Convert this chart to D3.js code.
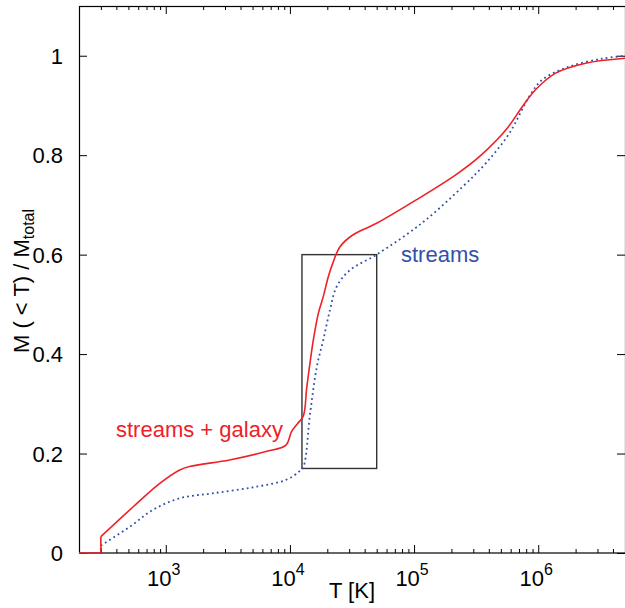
<!DOCTYPE html>
<html lang="en">
<head>
    <meta charset="UTF-8">
    <title>M(&lt;T) / Mtotal</title>
    <script src="https://d3js.org/d3.v7.min.js"></script>
    <style>
        body { margin: 0; background: #fff; }
        svg text { font-family: "Liberation Sans", Arial, Helvetica, sans-serif; }
    </style>
</head>
<body>
    <div id="container"></div>
    <script>
        // Data: cumulative mass fraction below temperature T
        const galaxyT = [200, 300, 300, 547, 895, 1295, 1557, 3260, 6410, 9290, 10300, 11500, 12800,
                         13700, 15450, 16940, 18580, 20400, 22380, 25300, 32300, 49900, 104000,
                         218000, 336000, 550000, 747000, 955000, 1.38e6, 2.41e6, 5e6];
        const galaxyM = [0, 0, 0.033, 0.093, 0.140, 0.167, 0.174, 0.187, 0.204, 0.217, 0.244, 0.260, 0.275,
                         0.335, 0.429, 0.482, 0.516, 0.556, 0.586, 0.616, 0.640, 0.663, 0.710,
                         0.761, 0.797, 0.851, 0.898, 0.932, 0.965, 0.985, 0.995];

        const streamsT = [200, 300, 300, 514, 791, 1295, 2390, 5010, 9290, 11900, 12860, 14540, 16480,
                          18580, 21040, 23820, 30460, 49900, 115000, 247000, 379000, 585000, 846000,
                          1.08e6, 1.77e6, 3.27e6, 5e6];
        const streamsM = [0, 0, 0.015, 0.053, 0.087, 0.110, 0.120, 0.132, 0.147, 0.164, 0.174, 0.281, 0.375,
                          0.429, 0.489, 0.536, 0.569, 0.600, 0.663, 0.737, 0.784, 0.844, 0.918,
                          0.952, 0.978, 0.994, 1.0];

        // Zoom box drawn on the plot
        const boxT = [1.25e4, 5e4];
        const boxM = [0.17, 0.6];

        // Ticks
        const xMajor = [1e3, 1e4, 1e5, 1e6];
        const xExp = ["3", "4", "5", "6"];
        const yTicks = [0, 0.2, 0.4, 0.6, 0.8, 1];
        const yLabels = ["0", "0.2", "0.4", "0.6", "0.8", "1"];

        const red = "#ee2127";
        const blue = "#3350a8";

        // Dimensions
        const W = 625, H = 608;
        const marginLeft = 79, marginTop = 6, marginRight = 0, marginBottom = 55;
        const width = W - marginLeft - marginRight;
        const height = H - marginTop - marginBottom;

        const svg = d3.select("#container").append("svg")
            .attr("width", W).attr("height", H);
        const g = svg.append("g").attr("transform", `translate(${marginLeft},${marginTop})`);

        const x = d3.scaleLog().domain([200, 5e6]).range([0, width]);
        const y = d3.scaleLinear().domain([0, 1.1]).range([height, 0]);

        // minor ticks: 2..9 x 10^k inside the domain
        const xMinor = [];
        for (let k = 2; k <= 6; k++) {
            for (let m = 2; m <= 9; m++) {
                const v = m * Math.pow(10, k);
                if (v >= 200 && v <= 5e6) xMinor.push(v);
            }
        }

        const axisStyle = sel => {
            sel.select(".domain").remove();
            sel.selectAll("line").attr("stroke", "#000").attr("stroke-width", 1);
        };

        // Inward ticks on all four sides
        g.append("g").attr("transform", `translate(0,${height})`)
            .call(d3.axisBottom(x).tickValues(xMinor).tickSize(-4).tickFormat(""))
            .call(axisStyle);
        g.append("g").attr("transform", `translate(0,${height})`)
            .call(d3.axisBottom(x).tickValues(xMajor).tickSize(-8).tickFormat(""))
            .call(axisStyle);
        g.append("g")
            .call(d3.axisTop(x).tickValues(xMinor).tickSize(-4).tickFormat(""))
            .call(axisStyle);
        g.append("g")
            .call(d3.axisTop(x).tickValues(xMajor).tickSize(-8).tickFormat(""))
            .call(axisStyle);
        g.append("g")
            .call(d3.axisLeft(y).tickValues(yTicks).tickSize(-8).tickFormat(""))
            .call(axisStyle);
        g.append("g").attr("transform", `translate(${width},0)`)
            .call(d3.axisRight(y).tickValues(yTicks).tickSize(-8).tickFormat(""))
            .call(axisStyle);

        // Frame
        g.append("rect")
            .attr("x", 0.5).attr("y", 0.5)
            .attr("width", width).attr("height", height - 0.5)
            .attr("fill", "none").attr("stroke", "#000").attr("stroke-width", 1.2);

        // Tick labels
        const xl = g.append("g").attr("font-size", 22).attr("fill", "#000");
        xMajor.forEach((v, i) => {
            const t = xl.append("text")
                .attr("x", x(v) - 2).attr("y", height + 33)
                .attr("text-anchor", "middle");
            t.append("tspan").text("10");
            t.append("tspan").attr("dy", -11).attr("font-size", 16).text(xExp[i]);
        });
        g.append("g").attr("font-size", 22)
            .selectAll("text").data(yTicks).join("text")
            .attr("x", -16).attr("y", d => y(d) + 8)
            .attr("text-anchor", "end")
            .text((d, i) => yLabels[i]);

        // Axis titles
        g.append("text")
            .attr("x", 273).attr("y", height + 45)
            .attr("text-anchor", "middle").attr("font-size", 22)
            .text("T [K]");
        const yt = svg.append("text")
            .attr("transform", `translate(29,281) rotate(-90)`)
            .attr("text-anchor", "middle").attr("font-size", 22);
        yt.append("tspan").text("M ( < T) / M");
        yt.append("tspan").attr("dy", 5).attr("font-size", 16).text("total");

        // Zoom box
        g.append("rect")
            .attr("x", x(boxT[0])).attr("y", y(boxM[1]))
            .attr("width", x(boxT[1]) - x(boxT[0]))
            .attr("height", y(boxM[0]) - y(boxM[1]))
            .attr("fill", "none").attr("stroke", "#333").attr("stroke-width", 1.4);

        // the step at T = 300 K is drawn straight, the rest smoothed
        const step = d3.line().x(d => x(d[0])).y(d => y(d[1]));
        const smooth = d3.line()
            .x(d => x(d[0])).y(d => y(d[1]))
            .curve(d3.curveCatmullRom.alpha(0.5));

        function drawCurve(T, M, attrs) {
            const pts = d3.zip(T, M);
            [step(pts.slice(0, 3)), smooth(pts.slice(2))].forEach(d => {
                const p = g.append("path").attr("d", d).attr("fill", "none");
                Object.entries(attrs).forEach(([k, v]) => p.attr(k, v));
            });
        }

        // streams (dotted blue)
        drawCurve(streamsT, streamsM, {
            "stroke": blue, "stroke-width": 1.8, "stroke-dasharray": "1.8,3.2"
        });

        // streams + galaxy (solid red)
        drawCurve(galaxyT, galaxyM, { "stroke": red, "stroke-width": 1.6 });

        // Curve labels
        svg.append("text")
            .attr("x", 116).attr("y", 437)
            .attr("font-size", 22).attr("fill", red)
            .text("streams + galaxy");
        svg.append("text")
            .attr("x", 401).attr("y", 262)
            .attr("font-size", 22).attr("fill", blue)
            .text("streams");
    </script>
</body>
</html>
